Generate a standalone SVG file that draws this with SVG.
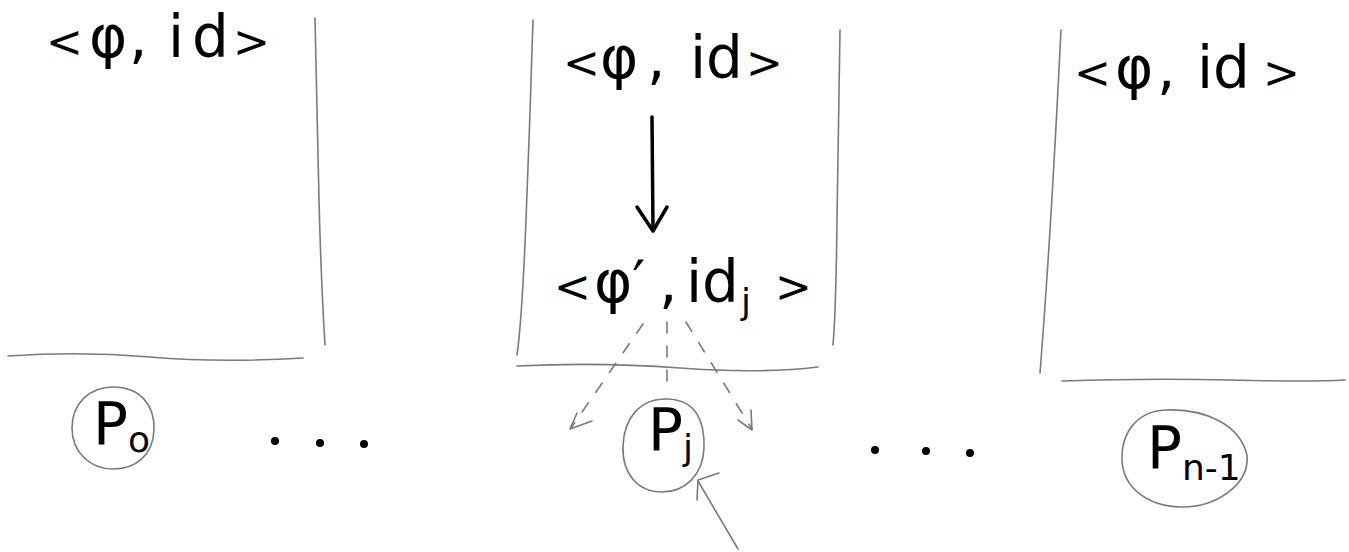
<svg xmlns="http://www.w3.org/2000/svg" width="1349" height="552" viewBox="0 0 1349 552">
<style>
.pen{fill:none;stroke:#7a7a7a;stroke-width:1.6;stroke-linecap:round;stroke-linejoin:round}
.ink{fill:none;stroke:#000;stroke-width:3.5;stroke-linecap:round;stroke-linejoin:round}
.dash{fill:none;stroke:#7a7a7a;stroke-width:1.6;stroke-dasharray:11 13;stroke-linecap:round}
.t{font-family:"DejaVu Sans","Liberation Sans",sans-serif;fill:#000;font-size:58px}
.br{font-size:44px}
.sub{font-size:36px}
</style>
<rect width="1349" height="552" fill="#fff"/>
<g id="panels">
  <path class="pen" d="M315,18 Q317,120 319,200 T325,345"/>
  <path class="pen" d="M8,356 Q80,351 150,357 T303,358"/>
  <path class="pen" d="M533,20 Q530,120 526,220 T517,355"/>
  <path class="pen" d="M840,30 Q838,130 837,220 T833,345"/>
  <path class="pen" d="M517,366 Q600,362 680,368 T818,367"/>
  <path class="pen" d="M1061,30 Q1055,150 1050,230 T1040,373"/>
  <path class="pen" d="M1062,381 Q1150,378 1230,380 T1345,380"/>
</g>
<g id="state-left">
  <text class="t" y="57"><tspan class="br" x="46">&lt;</tspan><tspan x="89">φ</tspan><tspan x="129">,</tspan><tspan x="168">i</tspan><tspan x="192">d</tspan><tspan class="br" x="233">&gt;</tspan></text>
</g>
<g id="state-mid-top">
  <text class="t" y="78"><tspan class="br" x="563">&lt;</tspan><tspan x="600">φ</tspan><tspan x="647">,</tspan><tspan x="690">id</tspan><tspan class="br" x="746">&gt;</tspan></text>
</g>
<g id="state-mid-bottom">
  <text class="t" y="302"><tspan class="br" x="554">&lt;</tspan><tspan x="594">φ′</tspan><tspan x="659">,</tspan><tspan x="686">id</tspan><tspan class="sub" x="741" dy="12">j</tspan><tspan class="br" x="775" dy="-12">&gt;</tspan></text>
</g>
<g id="state-right">
  <text class="t" y="88"><tspan class="br" x="1074">&lt;</tspan><tspan x="1115">φ</tspan><tspan x="1157">,</tspan><tspan x="1197">id</tspan><tspan class="br" x="1263">&gt;</tspan></text>
</g>
<g id="connectors">
  <path class="ink" d="M652,117 L653,230"/>
  <path class="ink" d="M637,207 L653,231 L667,207"/>
  <path class="dash" d="M643,324 L571,428"/>
  <path class="pen" d="M577,413 L570,429 L592,421"/>
  <path class="dash" d="M667,322 L667,390"/>
  <path class="dash" d="M686,322 L752,429"/>
  <path class="pen" d="M738,420 L752,430 L751,410"/>
  <path class="pen" d="M738,549 L698,481"/>
  <path class="pen" d="M719,473 L698,480 L697,500"/>
</g>
<g id="p0">
  <path class="pen" d="M113,387 C140,387 155,405 154,430 C153,455 136,469 113,469 C90,469 72,452 72,428 C72,403 90,387 113,387 Z"/>
  <text class="t" x="93" y="444" font-size="52">P<tspan class="sub" dy="8">o</tspan></text>
</g>
<g id="dots-left">
  <circle cx="275" cy="441" r="4"/>
  <circle cx="320" cy="443" r="4"/>
  <circle cx="364" cy="444" r="4"/>
</g>
<g id="pj">
  <path class="pen" d="M668,399 C695,400 705,420 704,448 C703,475 685,492 662,492 C638,492 622,474 623,446 C624,418 640,398 668,399 Z"/>
  <text class="t" x="648" y="450" font-size="52">P<tspan class="sub" dy="10">j</tspan></text>
</g>
<g id="dots-right">
  <circle cx="875" cy="450" r="4"/>
  <circle cx="926" cy="451" r="4"/>
  <circle cx="970" cy="453" r="4"/>
</g>
<g id="pn1">
  <path class="pen" d="M1165,410 C1205,408 1240,425 1247,455 C1250,485 1215,508 1180,507 C1148,506 1123,488 1122,460 C1121,430 1140,411 1165,410 Z"/>
  <text class="t" x="1147" y="468" font-size="52">P<tspan class="sub" dy="12">n-1</tspan></text>
</g>
</svg>
